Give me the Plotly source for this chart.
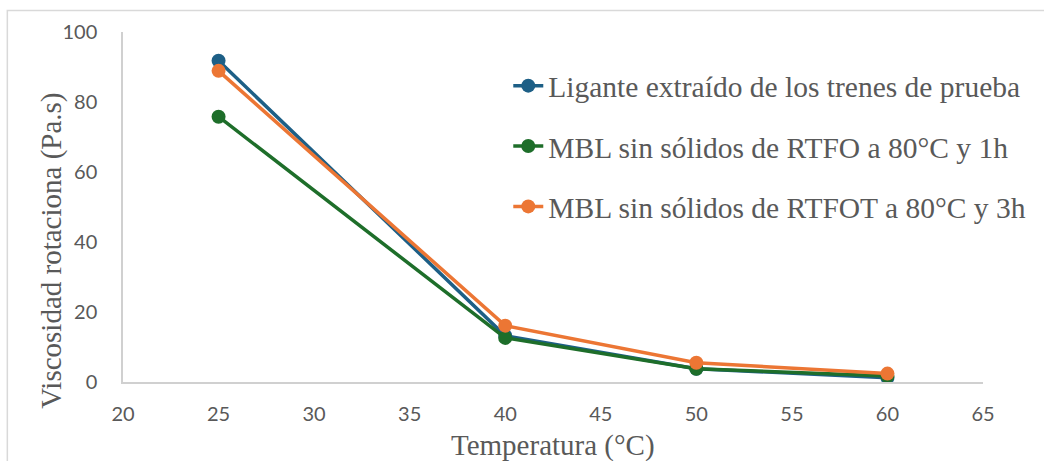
import plotly.graph_objects as go

temperatura = [25, 40, 50, 60]
ligante = [91.8, 13.2, 3.8, 1.2]
rtfo_1h = [75.8, 12.6, 3.8, 1.7]
rtfot_3h = [88.9, 16.1, 5.5, 2.4]

nombres = [
    "Ligante extraído de los trenes de prueba",
    "MBL sin sólidos de RTFO a 80°C y 1h",
    "MBL sin sólidos de RTFOT a 80°C y 3h",
]
colores = ["#1d5f86", "#1e6e2a", "#ec7634"]
series = [ligante, rtfo_1h, rtfot_3h]

x_ticks = [20, 25, 30, 35, 40, 45, 50, 55, 60, 65]
y_ticks = [0, 20, 40, 60, 80, 100]

fig = go.Figure()
for i, (nom, col, vals) in enumerate(zip(nombres, colores, series)):
    fig.add_trace(go.Scatter(
        x=temperatura, y=vals, mode="lines+markers", name=nom,
        legendgroup=f"g{i}",
        line=dict(color=col, width=3.5),
        marker=dict(color=col, size=14),
    ))

tick_font = dict(family="Lato, Open Sans, sans-serif", size=20, color="#595959")
serif = dict(family="Liberation Serif, Times New Roman, serif", size=29, color="#595959")
legend_font = dict(family="Liberation Serif, Times New Roman, serif", size=29.5, color="#595959")

fig.update_layout(
    width=1044, height=461,
    margin=dict(l=123, r=61, t=32, b=79),
    paper_bgcolor="white", plot_bgcolor="white",
    showlegend=True,
    legend=dict(
        x=0.448, xanchor="left", y=0.92, yanchor="top",
        font=legend_font, tracegroupgap=19, bgcolor="rgba(0,0,0,0)",
        traceorder="grouped",
    ),
    xaxis=dict(
        range=[20, 65], tickvals=x_ticks, showgrid=False, zeroline=False,
        showline=True, linecolor="#d0d0d0", linewidth=1.5,
        tickfont=tick_font, ticks="", ticklabelstandoff=13,
    ),
    yaxis=dict(
        range=[0, 100], tickvals=y_ticks, showgrid=False, zeroline=False,
        showline=True, linecolor="#d0d0d0", linewidth=1.5,
        tickfont=tick_font, ticks="", ticklabelstandoff=20,
    ),
    annotations=[
        dict(text="Temperatura (°C)", xref="paper", yref="paper",
             x=0.5, y=-0.182, xanchor="center", yanchor="middle",
             showarrow=False, font=serif),
        dict(text="Viscosidad rotaciona (Pa.s)", xref="paper", yref="paper",
             x=-0.084, y=0.374, xanchor="center", yanchor="middle",
             textangle=-90, showarrow=False, font=serif),
    ],
    shapes=[
        dict(type="rect", xref="paper", yref="paper",
             x0=-0.1345, y0=-0.4, x1=1.2, y1=1.0615,
             line=dict(color="#d9d9d9", width=1.5), fillcolor="rgba(0,0,0,0)",
             layer="below"),
    ],
)

fig.write_html("out.html")
